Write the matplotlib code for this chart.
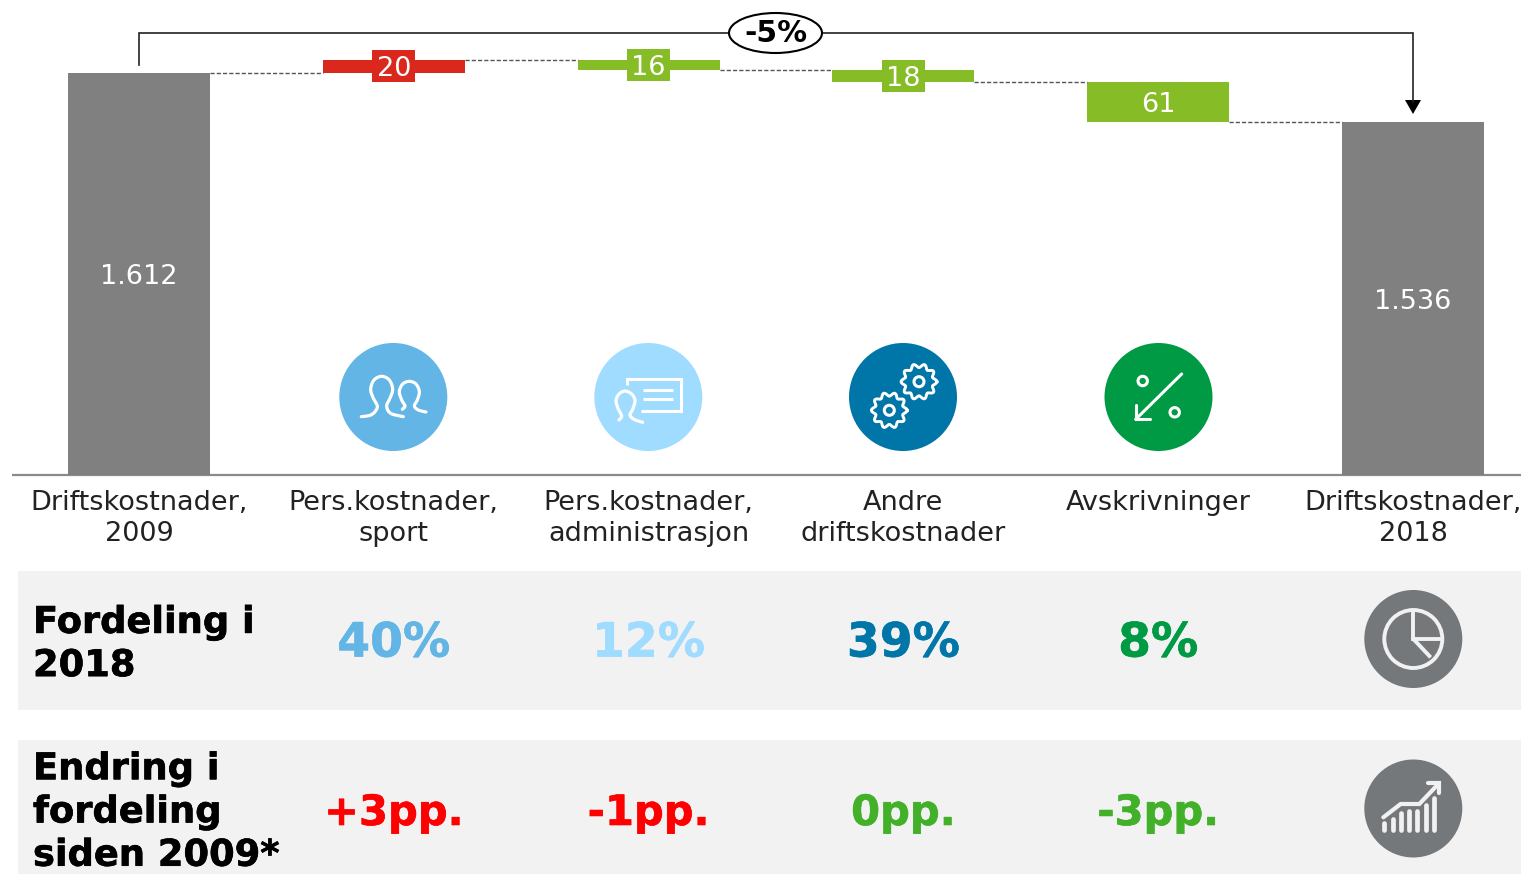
import numpy as np
import matplotlib
matplotlib.use("Agg")
import matplotlib.pyplot as plt
import matplotlib.patheffects as pe
from matplotlib.patches import Rectangle, Circle, Ellipse, Polygon

plt.rcParams['font.family'] = ['DejaVu Sans']

categories = ["Driftskostnader,\n2009", "Pers.kostnader,\nsport", "Pers.kostnader,\nadministrasjon",
              "Andre\ndriftskostnader", "Avskrivninger", "Driftskostnader,\n2018"]
start_value = 1612
end_value = 1536
changes = [20, -16, -18, -61]
change_labels = ["20", "16", "18", "61"]
total_labels = ["1.612", "1.536"]
total_change = "-5%"
share_label = "Fordeling i\n2018"
share_values = ["40%", "12%", "39%", "8%"]
shift_label = "Endring i\nfordeling\nsiden 2009*"
shift_values = ["+3pp.", "-1pp.", "0pp.", "-3pp."]

GREY = "#808080"; RED = "#DA291C"; GREEN = "#86BC25"
C1 = "#62B5E5"; C2 = "#A0DCFF"; C3 = "#0076A8"; C4 = "#009A44"
ICON = "#75787B"; BAND = "#F2F2F2"
share_colors = [C1, C2, C3, C4]
shift_colors = ["#FF0000", "#FF0000", "#43B02A", "#43B02A"]

W, H = 1521, 874
fig = plt.figure(figsize=(W/100, H/100), dpi=100)

def heavy(color, w=0.45):
    return [pe.withStroke(linewidth=w, foreground=color)]

# pixel overlay
px = fig.add_axes([0, 0, 1, 1], zorder=1)
px.set_xlim(0, W); px.set_ylim(H, 0); px.axis("off")
# data axes: 0.65 px per unit, axis broken so the baseline is not zero
X0, DX = 139.0, 254.8
PPU = 0.65
Y_TOP_PX = 73
def val_at(py):
    return start_value - (py - Y_TOP_PX) / PPU
ax = fig.add_axes([0, 0, 1, 1], zorder=2)
ax.patch.set_alpha(0)
ax.set_xlim(-X0/DX, (W-X0)/DX); ax.set_ylim(val_at(H), val_at(0)); ax.axis("off")
base = val_at(475)
BW = 142/DX

# background bands (below everything)
px.add_patch(Rectangle((18, 571), W-18, 139, fc=BAND, ec="none"))
px.add_patch(Rectangle((18, 740), W-18, 134, fc=BAND, ec="none"))
px.plot([12, W], [475, 475], color="#8A8A8A", lw=1.6, solid_capstyle="butt")

# waterfall
ax.bar([0, 5], [start_value-base, end_value-base], bottom=base, width=BW, color=GREY)
ax.text(0, (start_value+base)/2 - 3/PPU, total_labels[0], color="white", ha="center", va="center", fontsize=19.5)
ax.text(5, (end_value+base)/2 - 3/PPU, total_labels[1], color="white", ha="center", va="center", fontsize=19.5)
level = start_value
levels = [level]
BOXW, BOXH = 43/DX, 32/PPU
for i, (d, lab) in enumerate(zip(changes, change_labels), start=1):
    lo, hi = min(level, level+d), max(level, level+d)
    col = RED if d > 0 else GREEN
    ax.bar(i, hi-lo, bottom=lo, width=BW, color=col)
    mid = (lo+hi)/2
    if hi-lo < BOXH:
        ax.add_patch(Rectangle((i-BOXW/2, mid-BOXH/2), BOXW, BOXH, fc=col, ec="none"))
    ax.text(i, mid-4, lab, color="white", ha="center", va="center", fontsize=19.5)
    level += d
    levels.append(level)
levels[-1] = end_value
for i, lv in enumerate(levels):
    ax.plot([i+BW/2, i+1-BW/2], [lv, lv], color="#555555", lw=1, dashes=(3, 1.5))

# bracket
px.plot([139, 139, 1413, 1413], [65, 33, 33, 102], color="#222222", lw=1.2, solid_joinstyle="miter")
px.add_patch(Polygon([[1405, 100], [1421, 100], [1413, 114]], fc="black", ec="none"))
px.add_patch(Ellipse((775.5, 33), 93, 40, fc="white", ec="black", lw=1.5, zorder=3))
px.text(775.5, 33, total_change, ha="center", va="center", fontsize=21.5, fontweight="bold", zorder=4)

# labels
for i, c in enumerate(categories):
    ax.text(i, val_at(490), c, ha="center", va="top", fontsize=19.5, color="#222222", linespacing=1.24)

px.text(33, 644, share_label, ha="left", va="center", fontsize=26.5, fontweight="bold",
        linespacing=1.215, path_effects=heavy("black"))
px.text(33, 812, shift_label, ha="left", va="center", fontsize=26.5, fontweight="bold",
        linespacing=1.215, path_effects=heavy("black"))
for i in range(4):
    ax.text(i+1, val_at(644), share_values[i], color=share_colors[i], ha="center", va="center",
            fontsize=34, fontweight="bold", path_effects=heavy(share_colors[i]))
    ax.text(i+1, val_at(813), shift_values[i], color=shift_colors[i], ha="center", va="center",
            fontsize=30, fontweight="bold", path_effects=heavy(shift_colors[i]))

# icon helpers
def smooth(pts, n=12):
    p = np.array(pts, float)
    p = np.vstack([2*p[0]-p[1], p, 2*p[-1]-p[-2]])
    out = []
    for i in range(1, len(p)-2):
        t = np.linspace(0, 1, n, endpoint=False)[:, None]
        a, b, c, d = p[i-1], p[i], p[i+1], p[i+2]
        out.append(0.5*((2*b)+(-a+c)*t+(2*a-5*b+4*c-d)*t**2+(-a+3*b-3*c+d)*t**3))
    out.append(p[-2][None, :])
    return np.vstack(out)
def zoomed(pts, ox, oy):
    return [(x/3+ox, y/3+oy) for x, y in pts]
def curve(pts, ox, oy, lw=2.3, color="white"):
    s = smooth(zoomed(pts, ox, oy))
    px.plot(s[:, 0], s[:, 1], color=color, lw=lw, solid_capstyle="round", zorder=5)
def poly(pts, ox, oy, lw=2.2, color="white", cap="butt"):
    s = np.array(zoomed(pts, ox, oy))
    px.plot(s[:, 0], s[:, 1], color=color, lw=lw, solid_capstyle=cap, solid_joinstyle="miter", zorder=5)

for cx, col in zip([393.3, 648.3, 903, 1158.5], share_colors):
    px.add_patch(Circle((cx, 397), 54, fc=col, ec="none", zorder=4))
px.add_patch(Circle((1413.3, 639), 49, fc=ICON, ec="none", zorder=4))
px.add_patch(Circle((1413.3, 808.5), 49, fc=ICON, ec="none", zorder=4))

# people
curve([(124,260),(150,256),(165,245),(172,228),(160,205),(152,178),(162,150),(185,139),(208,150),(218,178),
       (210,205),(200,228),(212,250),(250,260)], 320, 330)
curve([(247,238),(255,228),(245,210),(238,185),(248,162),(268,154),(288,162),(298,185),(292,210),(283,228),
       (295,240),(318,246)], 320, 330)
# person + card
poly([(922,165),(922,146),(1083,146),(1083,243),(962,243)], 320, 330)
poly([(970,180),(1058,180)], 320, 330)
poly([(970,208),(1058,208)], 320, 330)
curve([(897,270),(905,258),(895,238),(888,212),(897,192),(915,183),(935,192),(945,212),(938,238),(930,255),
       (942,268),(968,277)], 320, 330)
# gears
for cx, cy in [(919, 381.7), (889.3, 410.3)]:
    th = np.linspace(0, 2*np.pi, 240)
    r = 16 + 1.9*np.cos(10*th)
    px.plot(cx+r*np.cos(th), cy+r*np.sin(th), color="white", lw=2.1, zorder=5)
    px.add_patch(Circle((cx, cy), 5, fc="none", ec="white", lw=2.2, zorder=5))
# percent
for c in [(1142.7, 381), (1174.7, 412.3)]:
    px.add_patch(Circle(c, 4.7, fc="none", ec="white", lw=2.2, zorder=5))
poly([(1055,132),(917,268)], 830, 330, cap="round")
poly([(917,225),(917,268),(960,268)], 830, 330, cap="round")
# pie
LIGHT = "#F1F1F1"
px.add_patch(Circle((1413.3, 639), 29, fc="none", ec=LIGHT, lw=2.8, zorder=5))
poly([(220,90),(220,177),(305,177)], 1340, 580, lw=2.8, color=LIGHT)
poly([(220,177),(272,232)], 1340, 580, lw=2.8, color=LIGHT)
# growth
for x, top in zip([133,158,183,208,232,257,282], [730,718,700,693,693,675,655]):
    poly([(x,top),(x,750)], 1340, 580, lw=3.4, color=LIGHT, cap="round")
poly([(130,712),(182,672),(238,672),(295,612)], 1340, 580, lw=3.0, color=LIGHT, cap="round")
poly([(264,610),(298,610),(298,640)], 1340, 580, lw=3.0, color=LIGHT, cap="round")

fig.savefig("out.png", dpi=100)
